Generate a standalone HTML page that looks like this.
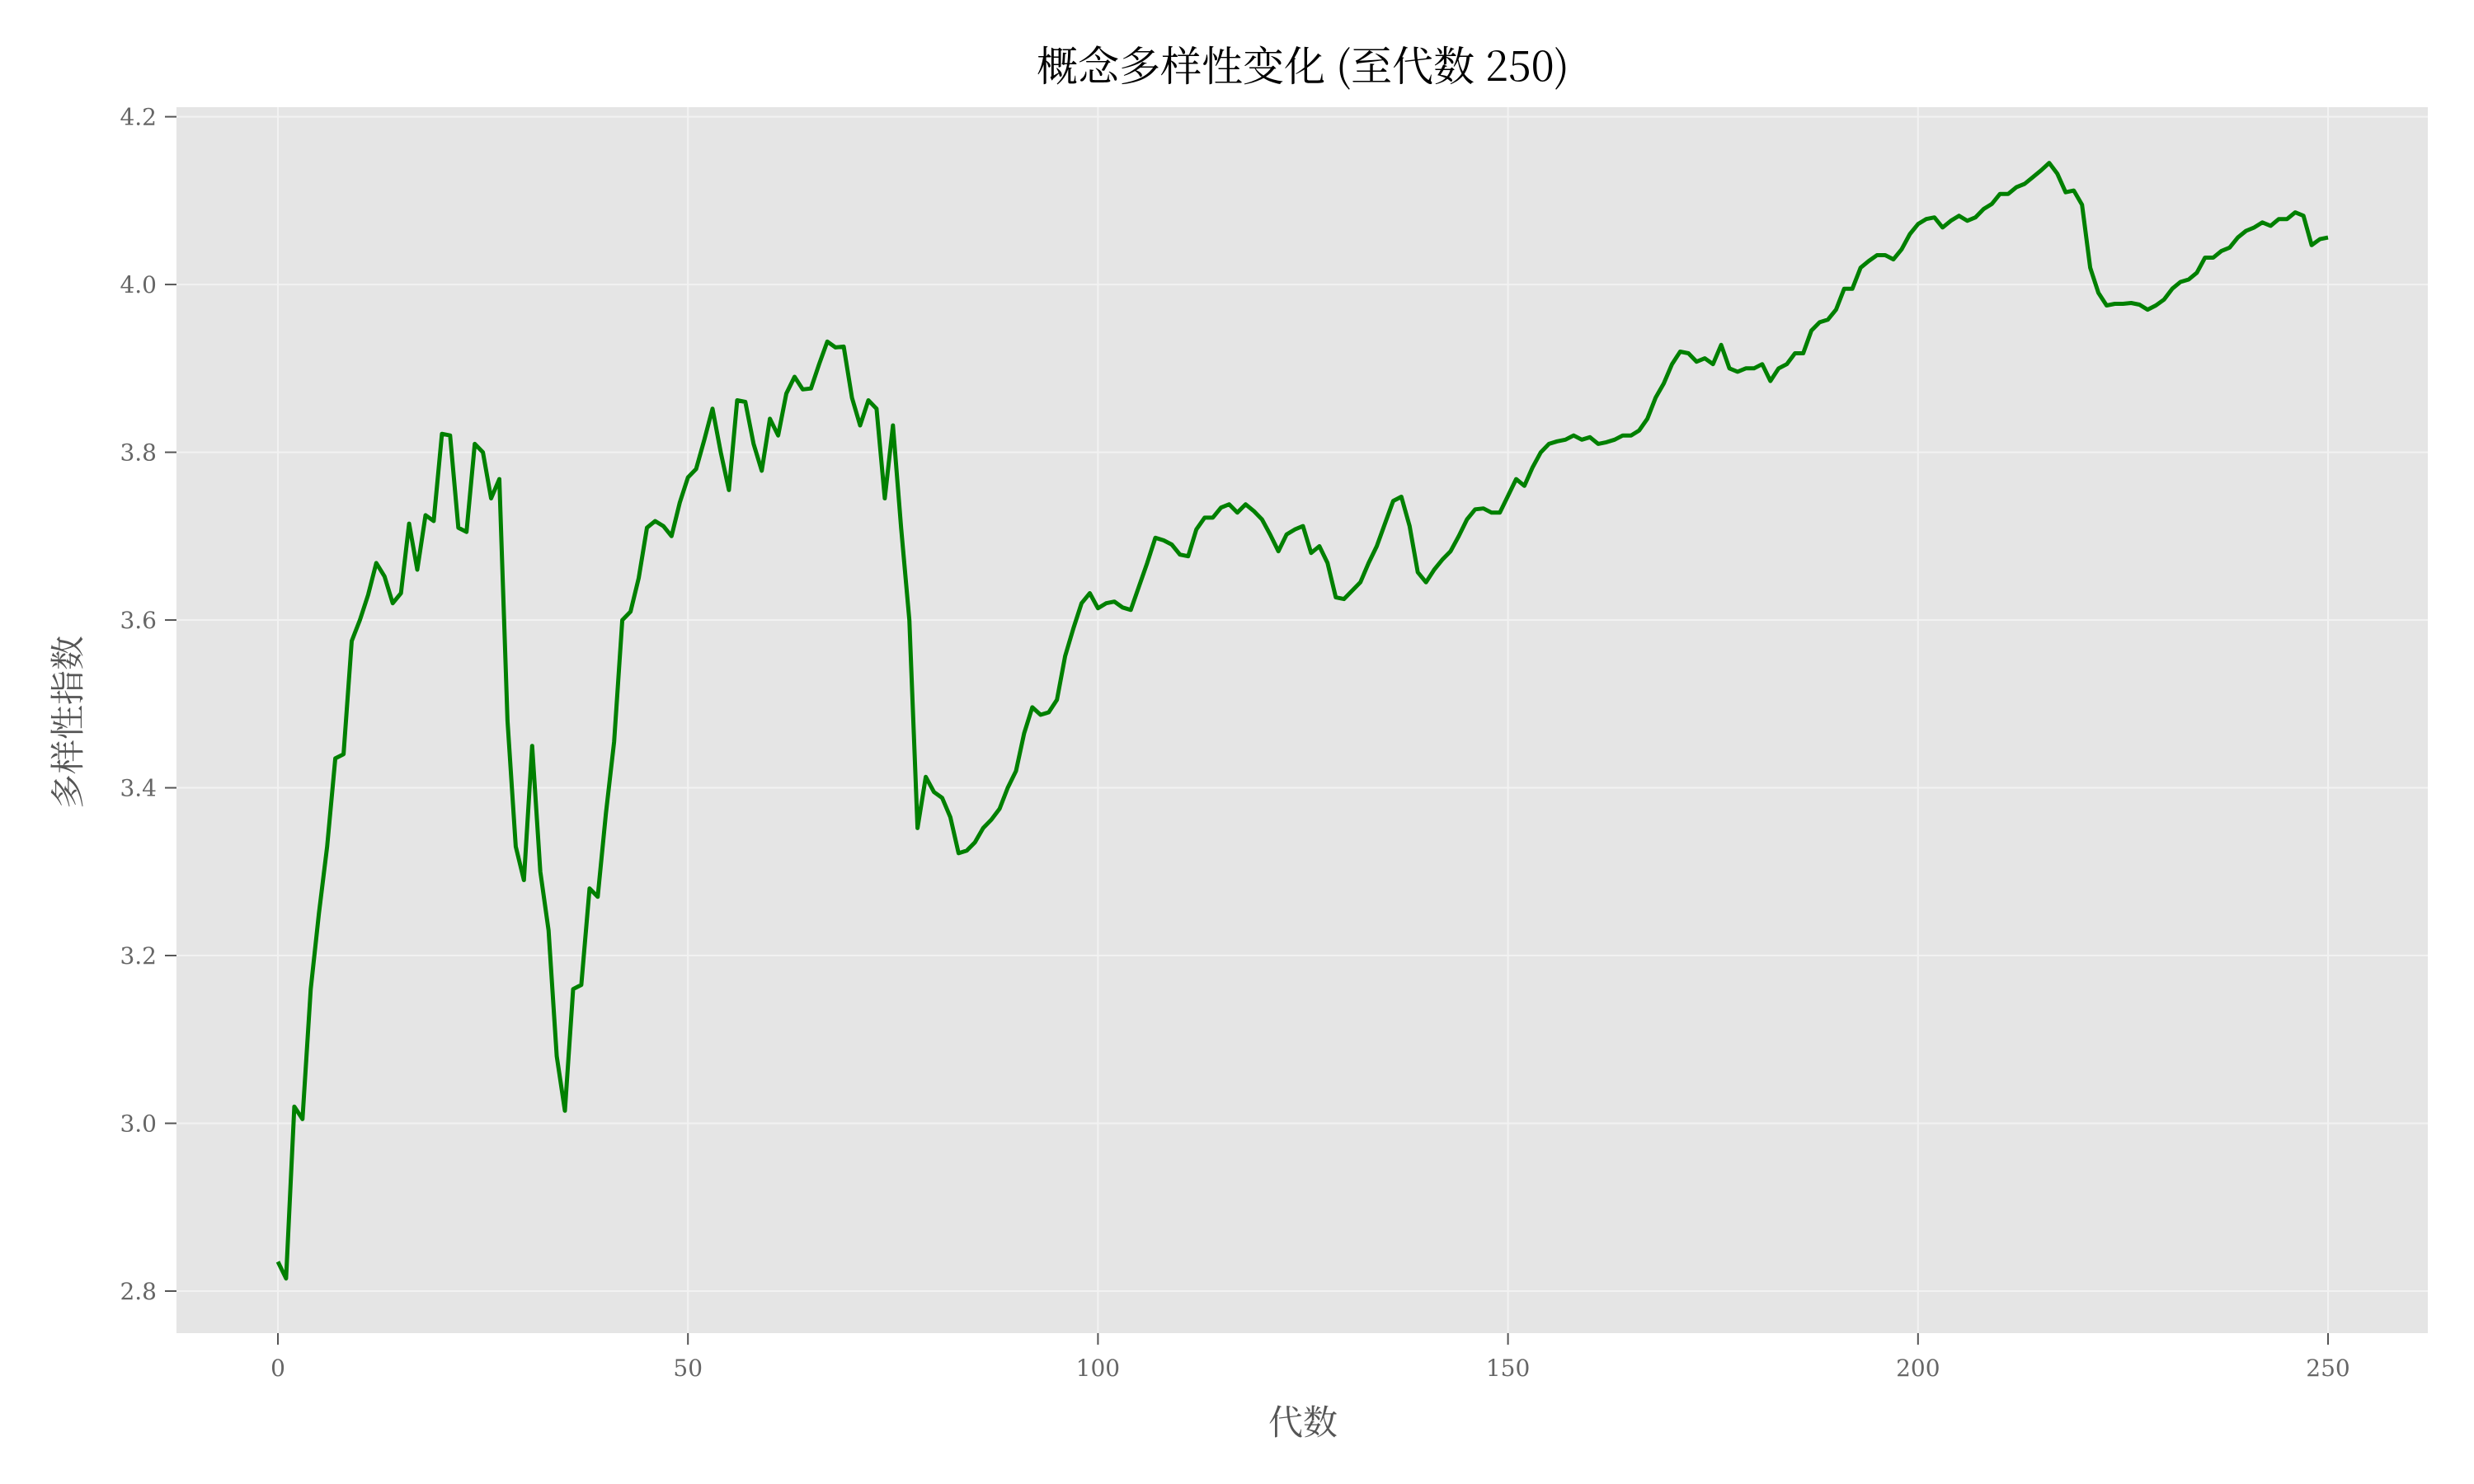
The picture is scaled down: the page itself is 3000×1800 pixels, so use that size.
<!DOCTYPE html>
<html><head><meta charset="utf-8"><style>
html,body{margin:0;padding:0;background:#fff;}
svg{display:block;}
text{font-family:"DejaVu Serif","Liberation Serif","Noto Serif CJK SC",serif;}
.cjk{font-family:"Noto Serif CJK SC","Liberation Serif",serif;}
</style></head><body>
<svg id="chart" width="3000" height="1800" xmlns="http://www.w3.org/2000/svg">
<rect x="0" y="0" width="3000" height="1800" fill="#fff"/>
<rect x="214" y="130" width="2730" height="1487" fill="#e5e5e5"/>
<g id="grid"></g><g id="axes"></g><g id="series"></g>
<text x="1580" y="98" text-anchor="middle" font-size="50" fill="#000" class="cjk">概念多样性变化 (至代数 250)</text>
<text x="1580" y="1740" text-anchor="middle" font-size="42" fill="#555" class="cjk">代数</text>
<text x="0" y="0" transform="translate(97,876) rotate(-90)" text-anchor="middle" font-size="42" fill="#555" class="cjk">多样性指数</text>
</svg>
<script>
const values=[2.835,2.815,3.02,3.005,3.16,3.25,3.33,3.435,3.44,3.575,3.6,3.63,3.668,3.652,3.62,3.632,3.715,3.66,3.725,3.718,
3.822,3.82,3.71,3.705,3.81,3.8,3.745,3.768,3.48,3.33,3.29,3.45,3.3,3.23,3.08,3.015,3.16,3.165,3.28,3.27,
3.37,3.455,3.6,3.61,3.65,3.71,3.718,3.712,3.7,3.74,3.77,3.78,3.815,3.852,3.8,3.755,3.862,3.86,3.81,3.778,
3.84,3.82,3.87,3.89,3.875,3.876,3.905,3.932,3.925,3.926,3.865,3.832,3.862,3.852,3.745,3.832,3.71,3.6,3.352,3.413,
3.395,3.388,3.365,3.322,3.325,3.335,3.352,3.362,3.375,3.4,3.42,3.465,3.496,3.487,3.49,3.505,3.557,3.59,3.62,3.632,
3.614,3.62,3.622,3.615,3.612,3.64,3.668,3.698,3.695,3.69,3.678,3.676,3.708,3.722,3.722,3.734,3.738,3.728,3.738,3.73,
3.72,3.702,3.682,3.702,3.708,3.712,3.68,3.688,3.668,3.627,3.625,3.635,3.645,3.668,3.688,3.715,3.742,3.747,3.712,3.657,
3.645,3.66,3.672,3.682,3.7,3.72,3.732,3.733,3.728,3.728,3.748,3.768,3.76,3.782,3.8,3.81,3.813,3.815,3.82,3.815,
3.818,3.81,3.812,3.815,3.82,3.82,3.826,3.84,3.865,3.882,3.905,3.92,3.918,3.908,3.912,3.905,3.928,3.9,3.896,3.9,
3.9,3.905,3.885,3.9,3.905,3.918,3.918,3.945,3.955,3.958,3.97,3.995,3.995,4.02,4.028,4.035,4.035,4.03,4.042,4.06,
4.072,4.078,4.08,4.068,4.076,4.082,4.076,4.08,4.09,4.096,4.108,4.108,4.116,4.12,4.128,4.136,4.145,4.132,4.11,4.112,
4.095,4.02,3.99,3.975,3.977,3.977,3.978,3.976,3.97,3.975,3.982,3.995,4.003,4.006,4.014,4.032,4.032,4.04,4.044,4.056,
4.064,4.068,4.074,4.07,4.078,4.078,4.086,4.082,4.047,4.054,4.056];
const xTicks=[0,50,100,150,200,250];
const yTicks=[2.8,3.0,3.2,3.4,3.6,3.8,4.0,4.2];
const yTickLabels=["2.8","3.0","3.2","3.4","3.6","3.8","4.0","4.2"];

const NS="http://www.w3.org/2000/svg";
const L=214,R=2944,T=130,B=1617;
function xs(g){return 337+(g-0)*(2823-337)/250;}
function ys(v){return 1566-(v-2.8)*(1566-141.6)/1.4;}
function mk(tag,attrs,parent){const e=document.createElementNS(NS,tag);for(const k in attrs)e.setAttribute(k,attrs[k]);parent.appendChild(e);return e;}
const grid=document.getElementById('grid'),axes=document.getElementById('axes'),series=document.getElementById('series');
xTicks.forEach(t=>{
  const x=xs(t);
  const gl=mk('line',{x1:x,x2:x,y1:T,y2:B,stroke:'#f2f2f2','stroke-width':2},grid);
  
  
  const tk=mk('line',{x1:x,x2:x,y1:B,y2:B+14,stroke:'#555','stroke-width':2},axes);
  
  
  const tx=mk('text',{x:x,y:B+52,'text-anchor':'middle','font-size':28,fill:'#666'},axes);
  tx.textContent=String(t);
  
  
});
yTicks.forEach((t,i)=>{
  const y=ys(t);
  const gl=mk('line',{x1:L,x2:R,y1:y,y2:y,stroke:'#f2f2f2','stroke-width':2},grid);
  
  
  const tk=mk('line',{x1:L-14,x2:L,y1:y,y2:y,stroke:'#555','stroke-width':2},axes);
  
  
  const tx=mk('text',{x:L-24,y:y+10,'text-anchor':'end','font-size':28,fill:'#666'},axes);
  tx.textContent=yTickLabels[i];
  
  
});
const pts=values.map((v,i)=>xs(i).toFixed(1)+','+ys(v).toFixed(1)).join(' ');
const line=mk('polyline',{points:pts,fill:'none',stroke:'#008000','stroke-width':5,'stroke-linejoin':'round'},series);


</script>
</body></html>
